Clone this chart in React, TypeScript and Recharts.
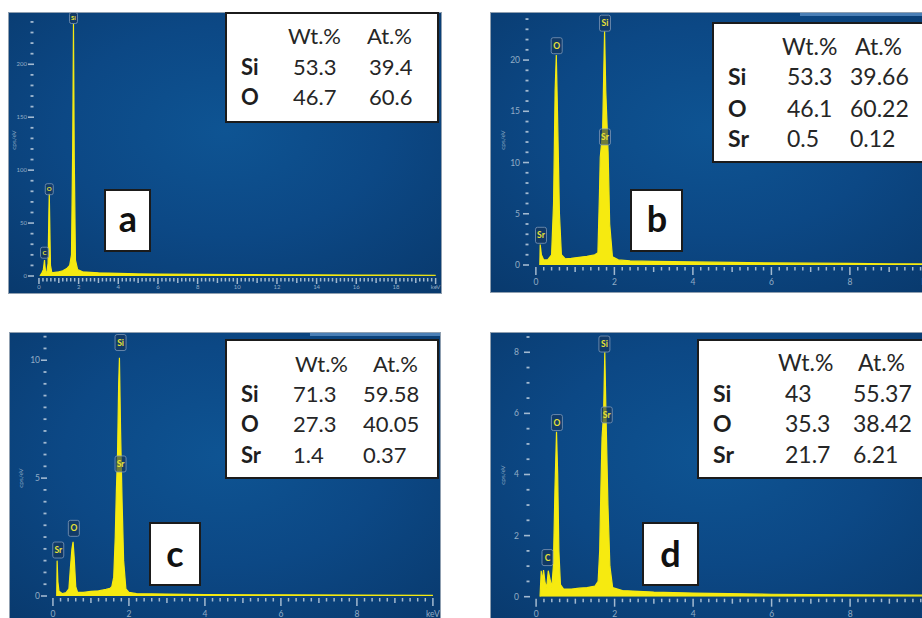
import React from 'react';
import { AreaChart, Area, XAxis, YAxis, ReferenceDot } from 'recharts';

// ---------------- DATA ----------------
// Panel a spectrum (keV, cps/eV)
const aEnergy = [0.05, 0.15, 0.22, 0.26, 0.28, 0.30, 0.34, 0.40, 0.46, 0.50, 0.52, 0.54, 0.58, 0.65, 0.8, 1.0, 1.2, 1.4, 1.55, 1.64, 1.70, 1.74, 1.78, 1.84, 1.95, 2.2, 2.6, 3, 4, 5, 6, 8, 10, 12, 14, 16, 18, 20];
const aCounts = [0, 3, 6, 12, 15, 10, 3, 4, 12, 60, 78, 55, 10, 3, 3.5, 4, 5, 7, 10, 20, 120, 238, 110, 15, 6, 4, 3.5, 3, 2.5, 2, 1.8, 1.5, 1.3, 1.1, 1, 0.9, 0.8, 0.7];
// Panel b spectrum
const bEnergy = [0.10, 0.11, 0.14, 0.2, 0.3, 0.40, 0.45, 0.49, 0.52, 0.55, 0.60, 0.65, 0.75, 0.9, 1.1, 1.3, 1.5, 1.58, 1.62, 1.64, 1.70, 1.73, 1.75, 1.78, 1.84, 1.88, 1.95, 2.1, 2.4, 3, 4, 5, 6, 7, 8, 9, 10];
const bCounts = [0, 2.0, 1.0, 0.5, 0.5, 1.0, 6, 17, 20.5, 15, 5, 1, 0.6, 0.65, 0.75, 0.85, 1.0, 1.2, 7, 10.5, 13, 19, 22.8, 17, 11, 4, 0.8, 0.5, 0.4, 0.35, 0.3, 0.25, 0.2, 0.18, 0.15, 0.12, 0.1];
// Panel c spectrum
const cEnergy = [0.10, 0.11, 0.13, 0.16, 0.25, 0.35, 0.42, 0.46, 0.50, 0.53, 0.56, 0.60, 0.65, 0.8, 1.0, 1.2, 1.4, 1.5, 1.55, 1.60, 1.64, 1.67, 1.70, 1.73, 1.75, 1.78, 1.82, 1.86, 1.92, 2.0, 2.2, 3, 4, 6, 8, 10];
const cCounts = [0, 1.5, 0.6, 0.2, 0.1, 0.15, 0.3, 1.2, 2.0, 2.3, 1.6, 0.4, 0.15, 0.15, 0.2, 0.22, 0.28, 0.32, 0.4, 0.8, 2.5, 4.5, 6, 9, 10.1, 7, 4, 1.5, 0.3, 0.15, 0.1, 0.08, 0.06, 0.05, 0.04, 0.03];
// Panel d spectrum
const dEnergy = [0.10, 0.13, 0.16, 0.19, 0.23, 0.27, 0.31, 0.35, 0.40, 0.44, 0.48, 0.52, 0.55, 0.58, 0.62, 0.7, 0.9, 1.1, 1.3, 1.5, 1.58, 1.62, 1.65, 1.68, 1.72, 1.75, 1.78, 1.83, 1.88, 1.95, 2.2, 3, 4, 6, 8, 10];
const dCounts = [0, 0.85, 0.5, 0.87, 0.45, 0.3, 0.85, 0.6, 0.3, 1.0, 3.5, 5.4, 4.0, 1.5, 0.4, 0.25, 0.25, 0.28, 0.3, 0.35, 0.5, 1.5, 3.5, 5.2, 6, 8.0, 6, 3, 1, 0.3, 0.2, 0.15, 0.12, 0.08, 0.06, 0.05];

// Axis tick labels
const aXLabelPos = [0, 2, 4, 6, 8, 10, 12, 14, 16, 18, 20];
const aXLabels = ['0', '2', '4', '6', '8', '10', '12', '14', '16', '18', 'keV'];
const bXLabelPos = [0, 2, 4, 6, 8, 10];
const bXLabels = ['0', '2', '4', '6', '8', 'keV'];
const aYMajor = [0, 50, 100, 150, 200];
const bYMajor = [0, 5, 10, 15, 20];
const cYMajor = [0, 5, 10];
const dYMajor = [0, 2, 4, 6, 8];

// Peak identification tags (element, keV, cps/eV)
const aTags = [['C', 0.28, 22], ['O', 0.52, 82], ['Si', 1.74, 243.7]];
const bTags = [['Sr', 0.13, 2.9], ['O', 0.53, 21.4], ['Si', 1.76, 23.6], ['Sr', 1.76, 12.5]];
const cTags = [['Sr', 0.14, 1.95], ['O', 0.55, 2.87], ['Si', 1.78, 10.75], ['Sr', 1.78, 5.6]];
const dTags = [['C', 0.29, 1.28], ['O', 0.53, 5.7], ['Si', 1.74, 8.27], ['Sr', 1.8, 5.95]];

// Composition tables
const tableHead = ['Wt.%', 'At.%'];
const aTable = [['Si', '53.3', '39.4'], ['O', '46.7', '60.6']];
const bTable = [['Si', '53.3', '39.66'], ['O', '46.1', '60.22'], ['Sr', '0.5', '0.12']];
const cTable = [['Si', '71.3', '59.58'], ['O', '27.3', '40.05'], ['Sr', '1.4', '0.37']];
const dTable = [['Si', '43', '55.37'], ['O', '35.3', '38.42'], ['Sr', '21.7', '6.21']];
const panelLetters = ['a', 'b', 'c', 'd'];

// ---------------- STYLE / LAYOUT ----------------
const YELLOW = '#f6ea10';
const TICK = '#b4c7da';
const FONT = 'Lato, "Open Sans", sans-serif';
const BG = 'radial-gradient(ellipse 75% 75% at 50% 42%, #0e5493 0%, #0c4885 50%, #093a6e 100%)';

const steps = (max: number, step: number) => {
  const out: number[] = [];
  for (let i = 0; i * step <= max + 1e-9; i++) out.push(+(i * step).toFixed(2));
  return out;
};

const toData = (e: number[], c: number[]) => e.map((v, i) => ({ e: v, c: c[i] }));

type Cfg = {
  left: number; top: number; width: number; height: number;
  plotLeft: number; plotRight: number; plotTop: number; plotBottom: number;
  xDomain: [number, number]; yDomain: [number, number];
  xMax: number; xLabelPos: number[]; xLabels: string[];
  yMajor: number[]; yMinorStep: number; yMax: number;
  data: { e: number; c: number }[];
  tags: (string | number)[][];
  tickFs: number; xLabelDy: number; yLabelDx: number;
  tagW: number; tagH: number; tagFs: number;
  cpsX: number; cpsY: number; strip?: [number, number];
};

const XTick = (props: any) => {
  const { x, y, payload, cfg } = props;
  const v = payload.value as number;
  const k = Math.round(v * 10);
  const major = k % 20 === 0;
  const mid = !major && k % 10 === 0;
  const len = major ? (cfg.tickFs < 8 ? 6 : 8) : mid ? 5 : 3.5;
  const idx = major ? cfg.xLabelPos.indexOf(Math.round(v)) : -1;
  return (
    <g>
      <line x1={x} x2={x} y1={y + 2} y2={y + 2 + len} stroke={TICK} strokeWidth={1.5} opacity={0.9} />
      {idx >= 0 && (
        <text x={x} y={y + cfg.xLabelDy} textAnchor="middle" fontSize={cfg.tickFs} fill={TICK} fontFamily={FONT} opacity={0.8}>
          {cfg.xLabels[idx]}
        </text>
      )}
    </g>
  );
};

const YTick = (props: any) => {
  const { x, y, payload, cfg } = props;
  const v = payload.value as number;
  const major = cfg.yMajor.some((m: number) => Math.abs(m - v) < 1e-6);
  return (
    <g>
      {major ? (
        <line x1={x - 7} x2={x - 1} y1={y} y2={y} stroke={TICK} strokeWidth={1.6} opacity={0.9} />
      ) : (
        <line x1={x - 4.5} x2={x - 1.5} y1={y} y2={y} stroke={TICK} strokeWidth={1.8} opacity={0.9} />
      )}
      {major && (
        <text x={x - cfg.yLabelDx} y={y + cfg.tickFs * 0.35} textAnchor="end" fontSize={cfg.tickFs} fill={TICK} fontFamily={FONT} opacity={0.8}>
          {String(v)}
        </text>
      )}
    </g>
  );
};

const Tag = (props: any) => {
  const { cx, cy, text, w, h, fs } = props;
  return (
    <g>
      <rect x={cx - w / 2} y={cy - h / 2} width={w} height={h} rx={2} fill="rgba(22,52,88,0.6)" stroke="#7d98b8" strokeWidth={0.8} />
      <text x={cx} y={cy + fs * 0.36} textAnchor="middle" fontSize={fs} fill="#e9e236" fontFamily={FONT} fontWeight={700}>
        {text}
      </text>
    </g>
  );
};

const Panel = ({ cfg }: { cfg: Cfg }) => {
  const xTicks = steps(cfg.xMax, 0.2);
  const yTicks = steps(cfg.yMax, cfg.yMinorStep);
  return (
    <div style={{ position: 'absolute', left: cfg.left, top: cfg.top, width: cfg.width, height: cfg.height, background: BG, outline: '1px solid #8f9fb0' }}>
      {cfg.strip && (
        <div style={{ position: 'absolute', left: cfg.strip[0], width: cfg.strip[1], top: 0, height: 3, background: '#4a7fb6' }} />
      )}
      <div style={{ position: 'absolute', left: cfg.cpsX, top: cfg.cpsY, transform: 'translate(-50%,-50%) rotate(-90deg)', fontSize: 6.5, color: TICK, fontFamily: FONT, opacity: 0.75, whiteSpace: 'nowrap' }}>
        cps/eV
      </div>
      <AreaChart
        width={cfg.width}
        height={cfg.height}
        data={cfg.data}
        margin={{ top: cfg.plotTop, right: cfg.width - cfg.plotRight, left: 0, bottom: 0 }}
        style={{ position: 'absolute', left: 0, top: 0 }}
      >
        <XAxis
          type="number"
          dataKey="e"
          domain={cfg.xDomain}
          allowDataOverflow
          ticks={xTicks}
          interval={0}
          tickLine={false}
          axisLine={false}
          tickSize={0}
          tickMargin={0}
          height={cfg.height - cfg.plotBottom}
          tick={(p: any) => <XTick {...p} cfg={cfg} />}
        />
        <YAxis
          type="number"
          domain={cfg.yDomain}
          allowDataOverflow
          ticks={yTicks}
          interval={0}
          tickLine={false}
          axisLine={false}
          tickSize={0}
          tickMargin={0}
          width={cfg.plotLeft}
          tick={(p: any) => <YTick {...p} cfg={cfg} />}
        />
        <Area
          type="linear"
          dataKey="c"
          stroke={YELLOW}
          strokeWidth={1.2}
          fill={YELLOW}
          fillOpacity={1}
          dot={false}
          activeDot={false}
          isAnimationActive={false}
        />
        {cfg.tags.map((t, i) => (
          <ReferenceDot
            key={i}
            x={t[1] as number}
            y={t[2] as number}
            r={0}
            ifOverflow="visible"
            shape={(p: any) => <Tag cx={p.cx} cy={p.cy} text={t[0]} w={cfg.tagW} h={cfg.tagH} fs={cfg.tagFs} />}
          />
        ))}
      </AreaChart>
    </div>
  );
};

const panels: Cfg[] = [
  {
    left: 9, top: 13, width: 432, height: 280,
    plotLeft: 26, plotRight: 428.6, plotTop: 3, plotBottom: 263,
    xDomain: [-0.2, 20.1], yDomain: [0, 245.6], xMax: 20, xLabelPos: aXLabelPos, xLabels: aXLabels,
    yMajor: aYMajor, yMinorStep: 10, yMax: 240, data: toData(aEnergy, aCounts), tags: aTags,
    tickFs: 6, xLabelDy: 13, yLabelDx: 8, tagW: 8, tagH: 11, tagFs: 6, cpsX: 4, cpsY: 127,
  },
  {
    left: 491, top: 13, width: 445, height: 279,
    plotLeft: 39, plotRight: 443.3, plotTop: 3, plotBottom: 252,
    xDomain: [-0.15, 10.15], yDomain: [0, 24.3], xMax: 10, xLabelPos: bXLabelPos, xLabels: bXLabels,
    yMajor: bYMajor, yMinorStep: 1, yMax: 24, data: toData(bEnergy, bCounts), tags: bTags,
    tickFs: 8.5, xLabelDy: 20, yLabelDx: 10, tagW: 11, tagH: 16, tagFs: 8.5, cpsX: 11, cpsY: 127, strip: [309, 140],
  },
  {
    left: 10, top: 333, width: 430, height: 292,
    plotLeft: 38, plotRight: 426.7, plotTop: 2, plotBottom: 263,
    xDomain: [-0.13, 10.1], yDomain: [0, 11.07], xMax: 10, xLabelPos: bXLabelPos, xLabels: bXLabels,
    yMajor: cYMajor, yMinorStep: 0.5, yMax: 11, data: toData(cEnergy, cCounts), tags: cTags,
    tickFs: 8.5, xLabelDy: 21, yLabelDx: 8, tagW: 11, tagH: 16, tagFs: 8.5, cpsX: 10, cpsY: 145, strip: [300, 130],
  },
  {
    left: 491, top: 333, width: 445, height: 292,
    plotLeft: 40, plotRight: 443.5, plotTop: 4, plotBottom: 263.7,
    xDomain: [-0.13, 10.15], yDomain: [0, 8.5], xMax: 10, xLabelPos: bXLabelPos, xLabels: bXLabels,
    yMajor: dYMajor, yMinorStep: 0.5, yMax: 8.5, data: toData(dEnergy, dCounts), tags: dTags,
    tickFs: 8.5, xLabelDy: 20, yLabelDx: 12, tagW: 11, tagH: 16, tagFs: 8.5, cpsX: 11, cpsY: 142,
  },
];

type TableLayout = {
  box: [number, number, number, number];
  labelX: number; headX: [number, number]; valX: [number, number];
  headY: number; rowY: number[]; fs: number; rows: string[][];
};

const tables: TableLayout[] = [
  { box: [226, 13, 212, 109], labelX: 241, headX: [288, 367], valX: [293, 369], headY: 43.5, rowY: [75, 105], fs: 22, rows: aTable },
  { box: [713, 23, 230, 139], labelX: 728, headX: [782, 855], valX: [787, 850], headY: 55, rowY: [85, 116.5, 146.5], fs: 23, rows: bTable },
  { box: [226, 340, 212, 138], labelX: 241, headX: [295, 373], valX: [293, 363], headY: 371.5, rowY: [401.7, 432.3, 463], fs: 22, rows: cTable },
  { box: [698, 340, 240, 138], labelX: 713, headX: [778, 858], valX: [785, 853], headY: 370.5, rowY: [401.7, 432.3, 463], fs: 23, rows: dTable },
];

const letterBoxes: { box: [number, number, number, number]; cx: number; base: number }[] = [
  { box: [105, 190, 45, 61], cx: 128, base: 231.5 },
  { box: [631, 190, 51, 61], cx: 657, base: 231.5 },
  { box: [150, 523, 50, 62], cx: 175, base: 566.5 },
  { box: [643, 523, 55, 62], cx: 670.5, base: 566.5 },
];

export default function App() {
  return (
    <div style={{ position: 'absolute', left: 0, top: 0, width: 922, height: 618, overflow: 'hidden', background: '#ffffff' }}>
      {panels.map((cfg, i) => (
        <Panel key={i} cfg={cfg} />
      ))}
      <svg width={922} height={618} style={{ position: 'absolute', left: 0, top: 0 }}>
        {tables.map((t, i) => (
          <g key={i}>
            <rect x={t.box[0]} y={t.box[1]} width={t.box[2]} height={t.box[3]} fill="#ffffff" stroke="#1b1b1b" strokeWidth={2} />
            {tableHead.map((h, j) => (
              <text key={j} x={t.headX[j]} y={t.headY} fontSize={t.fs} fontFamily={FONT} fill="#262626">{h}</text>
            ))}
            {t.rows.map((r, j) => (
              <g key={j}>
                <text x={t.labelX} y={t.rowY[j]} fontSize={t.fs} fontFamily={FONT} fontWeight={700} fill="#1e1e1e">{r[0]}</text>
                <text x={t.valX[0]} y={t.rowY[j]} fontSize={t.fs} fontFamily={FONT} fill="#262626">{r[1]}</text>
                <text x={t.valX[1]} y={t.rowY[j]} fontSize={t.fs} fontFamily={FONT} fill="#262626">{r[2]}</text>
              </g>
            ))}
          </g>
        ))}
        {letterBoxes.map((l, i) => (
          <g key={i}>
            <rect x={l.box[0]} y={l.box[1]} width={l.box[2]} height={l.box[3]} fill="#ffffff" stroke="#1b1b1b" strokeWidth={2} />
            <text x={l.cx} y={l.base} textAnchor="middle" fontSize={36} fontWeight={700} fontFamily={FONT} fill="#111111">{panelLetters[i]}</text>
          </g>
        ))}
      </svg>
    </div>
  );
}
